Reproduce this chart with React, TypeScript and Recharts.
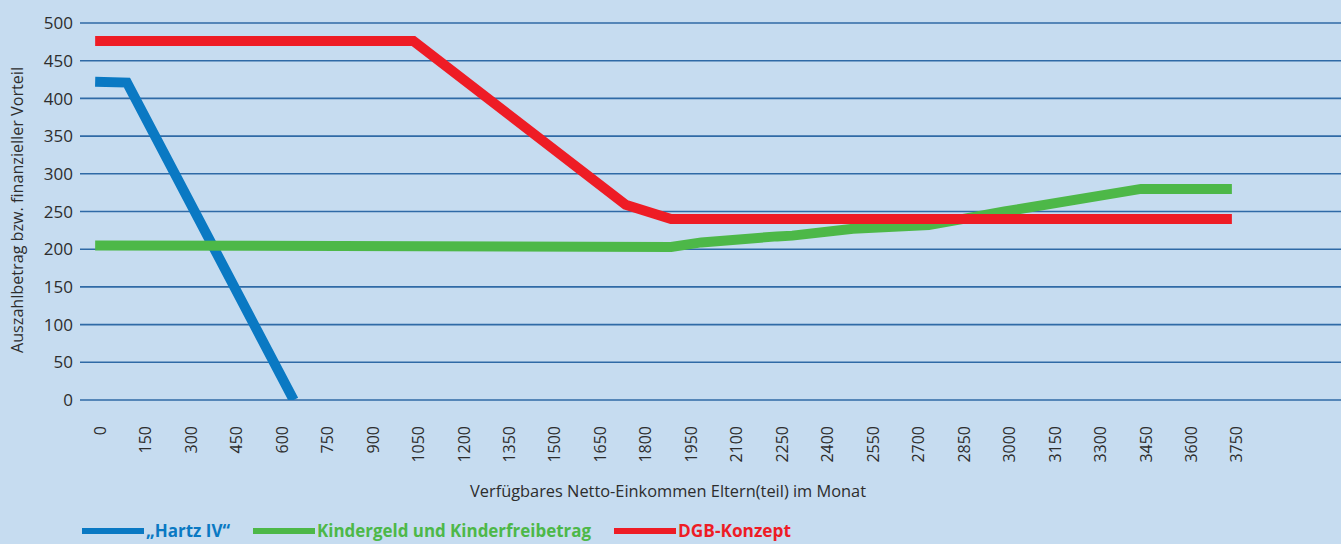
import React from 'react';
import { LineChart, Line, XAxis, YAxis, CartesianGrid, Legend } from 'recharts';

const xTicks = [0, 150, 300, 450, 600, 750, 900, 1050, 1200, 1350, 1500, 1650, 1800, 1950, 2100, 2250, 2400, 2550, 2700, 2850, 3000, 3150, 3300, 3450, 3600, 3750];
const yTicks = [0, 50, 100, 150, 200, 250, 300, 350, 400, 450, 500];

const hartzIV = [
  { x: 0, y: 422 },
  { x: 105, y: 421 },
  { x: 655, y: 0 },
];

const kindergeld = [
  { x: 0, y: 205 },
  { x: 1900, y: 203 },
  { x: 2000, y: 209 },
  { x: 2250, y: 217 },
  { x: 2300, y: 218 },
  { x: 2500, y: 227 },
  { x: 2750, y: 232 },
  { x: 3000, y: 250 },
  { x: 3450, y: 280 },
  { x: 3750, y: 280 },
];

const dgb = [
  { x: 0, y: 476 },
  { x: 1050, y: 476 },
  { x: 1750, y: 259 },
  { x: 1900, y: 240 },
  { x: 3750, y: 240 },
];

const seriesNames = ['\u201EHartz IV\u201C', 'Kindergeld und Kinderfreibetrag', 'DGB-Konzept'];

const SERIES = [
  { key: 'hartz', name: seriesNames[0], color: '#0a79c3', data: hartzIV, legendWidth: 84 },
  { key: 'kindergeld', name: seriesNames[1], color: '#4db848', data: kindergeld, legendWidth: 274 },
  { key: 'dgb', name: seriesNames[2], color: '#ee1c25', data: dgb, legendWidth: 113 },
];

const FONT = '"Open Sans", "DejaVu Sans", sans-serif';
const TEXT = '#2d2d2d';

const XTick = (props: any) => {
  const { x, y, payload } = props;
  const cx = x + 5;
  return (
    <text
      x={cx}
      y={y}
      transform={`rotate(-90, ${cx}, ${y})`}
      textAnchor="end"
      dy="0.35em"
      fontSize={16}
      fill={TEXT}
      fontFamily={FONT}
    >
      {payload.value}
    </text>
  );
};

const YTick = (props: any) => {
  const { x, y, payload } = props;
  return (
    <text x={x} y={y} textAnchor="end" dy="0.36em" fontSize={17} fill={TEXT} fontFamily={FONT}>
      {payload.value}
    </text>
  );
};

const XTitle = (props: any) => {
  const vb = props.viewBox || { x: 80, y: 400 };
  return (
    <text
      x={vb.x + 588}
      y={vb.y + 97}
      textAnchor="middle"
      fontSize={17}
      fill={TEXT}
      fontFamily={FONT}
      textLength={396}
      lengthAdjust="spacingAndGlyphs"
    >
      Verfügbares Netto-Einkommen Eltern(teil) im Monat
    </text>
  );
};

const YTitle = () => {
  const cx = 17;
  const cy = 210;
  return (
    <text
      x={cx}
      y={cy}
      transform={`rotate(-90, ${cx}, ${cy})`}
      textAnchor="middle"
      dy="0.35em"
      fontSize={16}
      fill={TEXT}
      fontFamily={FONT}
      textLength={286}
      lengthAdjust="spacingAndGlyphs"
    >
      Auszahlbetrag bzw. finanzieller Vorteil
    </text>
  );
};

const renderLegend = () => {
  let cursor = 82;
  const items = SERIES.map((s) => {
    const lx = cursor;
    const tx = lx + 64;
    cursor = tx + s.legendWidth + 23;
    return (
      <g key={s.key}>
        <line x1={lx} x2={lx + 62} y1={17} y2={17} stroke={s.color} strokeWidth={6} />
        <text
          x={tx}
          y={23}
          fontSize={18}
          fontWeight="bold"
          fill={s.color}
          fontFamily={FONT}
          textLength={s.legendWidth}
          lengthAdjust="spacingAndGlyphs"
        >
          {s.name}
        </text>
      </g>
    );
  });
  return (
    <svg width={1341} height={30} style={{ display: 'block' }}>
      {items}
    </svg>
  );
};

export default function App() {
  return (
    <div style={{ width: 1341, height: 544, background: '#c6dcf0', position: 'relative' }}>
      <style>{'body{margin:0;background:#c6dcf0;}'}</style>
      <LineChart width={1341} height={544} margin={{ top: 23, right: 0, bottom: 0, left: 0 }}>
        <CartesianGrid vertical={false} stroke="#2f6aa6" strokeWidth={1.6} />
        <XAxis
          type="number"
          dataKey="x"
          domain={[-50, 4110]}
          ticks={xTicks}
          interval={0}
          allowDataOverflow
          height={114}
          axisLine={false}
          tickLine={false}
          tickSize={0}
          tickMargin={26}
          tick={<XTick />}
          label={<XTitle />}
        />
        <YAxis
          type="number"
          dataKey="y"
          domain={[0, 500]}
          ticks={yTicks}
          interval={0}
          allowDataOverflow
          width={80}
          axisLine={false}
          tickLine={false}
          tickSize={0}
          tickMargin={7}
          tick={<YTick />}
          label={<YTitle />}
        />
        <Legend
          verticalAlign="bottom"
          content={renderLegend}
          wrapperStyle={{ position: 'absolute', left: 0, top: 514, width: 1341, height: 30 }}
        />
        {SERIES.map((s) => (
          <Line
            key={s.key}
            data={s.data}
            dataKey="y"
            name={s.name}
            type="linear"
            stroke={s.color}
            strokeWidth={10}
            dot={false}
            activeDot={false}
            legendType="line"
            isAnimationActive={false}
          />
        ))}
      </LineChart>
    </div>
  );
}
